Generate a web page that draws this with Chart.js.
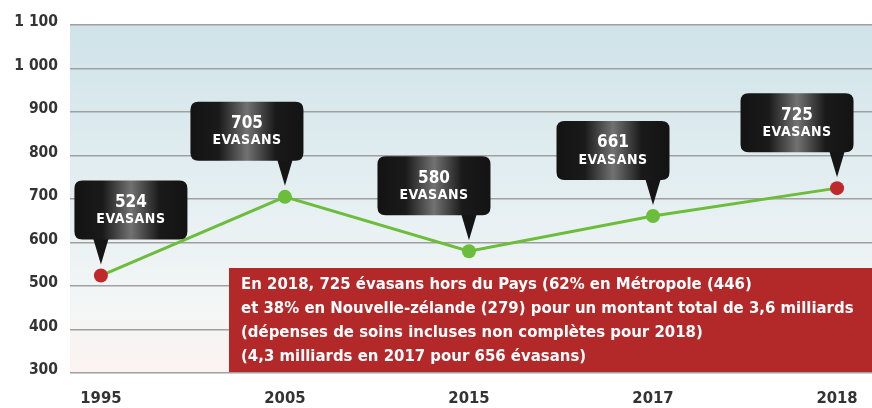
<!DOCTYPE html>
<html>
<head>
<meta charset="utf-8">
<script src="https://cdn.jsdelivr.net/npm/chart.js@4.4.1/dist/chart.umd.min.js"></script>
<style>
  html, body { margin: 0; padding: 0; background: #fff; }
</style>
</head>
<body>
<canvas id="graph" width="872" height="408"></canvas>
<script>
const years = ['1995', '2005', '2015', '2017', '2018'];
const evasans = [524, 705, 580, 661, 725];
const yTicks = [300, 400, 500, 600, 700, 800, 900, 1000, 1100];
const noteLines = [
    'En 2018, 725 évasans hors du Pays (62% en Métropole (446)',
    'et 38% en Nouvelle-zélande (279) pour un montant total de 3,6 milliards',
    '(dépenses de soins incluses non complètes pour 2018)',
    '(4,3 milliards en 2017 pour 656 évasans)'
];

const FONT = '"DejaVu Sans Condensed", "Liberation Sans Narrow", Roboto, sans-serif';
const GREEN = '#6cbd3a';
const RED = '#c0292b';
const pointColors = [RED, GREEN, GREEN, GREEN, RED];
// horizontal offset of each callout box from its point
const boxShift = [30, -38, -35, -40, -40];

function roundRect(c, x, y, w, h, r) {
    c.beginPath();
    c.moveTo(x + r, y);
    c.lineTo(x + w - r, y);
    c.quadraticCurveTo(x + w, y, x + w, y + r);
    c.lineTo(x + w, y + h - r);
    c.quadraticCurveTo(x + w, y + h, x + w - r, y + h);
    c.lineTo(x + r, y + h);
    c.quadraticCurveTo(x, y + h, x, y + h - r);
    c.lineTo(x, y + r);
    c.quadraticCurveTo(x, y, x + r, y);
    c.closePath();
}

// background gradient of the plot area
const bgPlugin = {
    id: 'bg',
    beforeDraw(chart) {
        const {ctx, chartArea: a} = chart;
        const g = ctx.createLinearGradient(0, a.top, 0, a.bottom);
        g.addColorStop(0, '#cfe3e9');
        g.addColorStop(0.5, '#e5eff2');
        g.addColorStop(0.8, '#f3f6f6');
        g.addColorStop(1, '#fbf3f1');
        ctx.save();
        ctx.fillStyle = g;
        ctx.fillRect(a.left, a.top, a.right - a.left, a.bottom - a.top);
        ctx.restore();
    }
};

// callouts + red note box
const notePlugin = {
    id: 'notes',
    afterDatasetsDraw(chart) {
        const {ctx, chartArea: a} = chart;
        const pts = chart.getDatasetMeta(0).data;
        ctx.save();

        // red note
        const nx = 229, ny = 268;
        ctx.fillStyle = '#b3292a';
        ctx.fillRect(nx, ny, a.right - nx, a.bottom - 1 - ny);
        ctx.fillStyle = '#fff';
        ctx.font = 'bold 16.6px ' + FONT;
        ctx.textBaseline = 'middle';
        ctx.textAlign = 'left';
        noteLines.forEach((t, i) => ctx.fillText(t, 241, 285 + i * 24));

        // callouts
        const w = 113, h = 59;
        pts.forEach((p, i) => {
            const cx = p.x + boxShift[i];
            const bottom = p.y - 36;
            const top = bottom - h;
            const left = cx - w / 2;

            ctx.fillStyle = '#151515';
            ctx.beginPath();
            ctx.moveTo(p.x - 8, bottom - 2);
            ctx.lineTo(p.x + 8, bottom - 2);
            ctx.lineTo(p.x, p.y - 11);
            ctx.closePath();
            ctx.fill();

            roundRect(ctx, left, top, w, h, 8);
            const g = ctx.createLinearGradient(left, 0, left + w, 0);
            g.addColorStop(0, '#131313');
            g.addColorStop(0.25, '#1a1a1a');
            g.addColorStop(0.5, '#727272');
            g.addColorStop(0.75, '#1a1a1a');
            g.addColorStop(1, '#131313');
            ctx.fillStyle = g;
            ctx.fill();

            ctx.fillStyle = '#fff';
            ctx.textAlign = 'center';
            ctx.font = 'bold 17px ' + FONT;
            ctx.fillText(String(evasans[i]), cx, top + 22);
            ctx.font = 'bold 14px ' + FONT;
            ctx.letterSpacing = '0.5px';
            ctx.fillText('EVASANS', cx, top + 39);
            ctx.letterSpacing = '0px';
        });
        ctx.restore();
    }
};

const ctx = document.getElementById('graph');
new Chart(ctx, {
    type: 'line',
    data: {
        datasets: [{
            data: evasans.map((v, i) => ({x: i, y: v})),
            borderColor: GREEN,
            borderWidth: 3,
            pointRadius: 7,
            pointHoverRadius: 7,
            pointBackgroundColor: pointColors,
            pointBorderColor: pointColors,
            pointBorderWidth: 0,
            tension: 0
        }]
    },
    options: {
        responsive: false,
        animation: false,
        devicePixelRatio: 1,
        layout: { autoPadding: false, padding: { top: 25, left: 0, right: 0, bottom: 0 } },
        plugins: {
            legend: { display: false },
            tooltip: { enabled: false }
        },
        scales: {
            x: {
                type: 'linear',
                min: -0.168,
                max: 4.19,
                afterBuildTicks: s => { s.ticks = years.map((_, i) => ({value: i})); },
                afterFit: s => { s.height = 35; s.paddingRight = 0; s.paddingLeft = 0; },
                grid: { display: false },
                border: { display: false },
                ticks: {
                    callback: v => years[v],
                    color: '#333',
                    font: { family: FONT, size: 16.5, weight: 'bold' },
                    padding: 8,
                    maxRotation: 0,
                    autoSkip: false
                }
            },
            y: {
                min: 300,
                max: 1100,
                afterBuildTicks: s => { s.ticks = yTicks.map(v => ({value: v})); },
                afterFit: s => { s.width = 70; },
                grid: { color: '#a0a0a0', lineWidth: 1.5, drawTicks: false },
                border: { display: false },
                ticks: {
                    callback: v => String(v).replace(/\B(?=(\d{3})+(?!\d))/g, ' '),
                    color: '#333',
                    font: { family: FONT, size: 15.5, weight: 'bold' },
                    padding: 12,
                    labelOffset: -3
                }
            }
        }
    },
    plugins: [bgPlugin, notePlugin]
});
</script>
</body>
</html>
